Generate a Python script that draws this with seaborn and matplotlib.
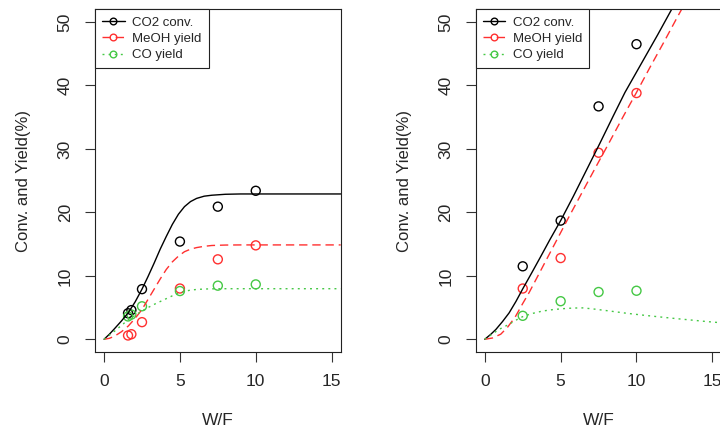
import matplotlib
matplotlib.use("Agg")
import matplotlib.pyplot as plt
from matplotlib.lines import Line2D
import pandas as pd
import seaborn as sns

# measured points, left panel
WF_LEFT = [1.58, 1.8, 2.5, 5.0, 7.5, 10.0]
CO2_LEFT = [4.1, 4.6, 7.9, 15.4, 20.9, 23.4]
MEOH_LEFT = [0.6, 0.8, 2.7, 8.0, 12.6, 14.8]
CO_LEFT = [3.6, 3.9, 5.2, 7.6, 8.45, 8.65]

# measured points, right panel
WF_RIGHT = [2.5, 5.0, 7.5, 10.0]
CO2_RIGHT = [11.5, 18.7, 36.7, 46.5]
MEOH_RIGHT = [8.0, 12.8, 29.4, 38.8]
CO_RIGHT = [3.7, 6.0, 7.45, 7.65]

# model curves, left panel
FIT_X_LEFT = [0, 0.35, 0.7, 1.15, 1.6, 2.05, 2.5, 2.9, 3.3, 3.7, 4.1, 4.5,
              4.9, 5.3, 5.7, 6.1, 6.6, 7.1, 8.0, 9.0, 10.5, 12.5, 15.6]
FIT_CO2_LEFT = [0, 0.8, 1.7, 2.9, 4.2, 5.9, 7.9, 9.9, 12.0, 14.2, 16.2, 18.1,
                19.7, 20.9, 21.7, 22.2, 22.55, 22.7, 22.85, 22.9, 22.9, 22.9, 22.9]
FIT_MEOH_LEFT = [0, 0.15, 0.5, 1.2, 2.1, 3.3, 4.7, 6.3, 7.9, 9.5, 11.0, 12.2,
                 13.1, 13.8, 14.2, 14.45, 14.65, 14.78, 14.85, 14.87, 14.87, 14.87, 14.87]
FIT_CO_LEFT = [0, 0.65, 1.3, 2.2, 3.1, 3.8, 4.45, 5.0, 5.5, 5.95, 6.4, 6.85,
               7.25, 7.55, 7.75, 7.85, 7.92, 7.95, 7.97, 7.97, 7.97, 7.97, 7.97]

# model curves, right panel
FIT_CO2_RIGHT_X = [0, 0.4, 0.73, 1.17, 1.6, 2.05, 2.49, 3.1, 3.7, 4.29, 5.0, 5.83,
                   6.71, 7.59, 8.47, 9.24, 10.45, 11.4, 12.32, 13.0]
FIT_CO2_RIGHT = [0, 0.8, 1.55, 2.8, 4.15, 5.95, 7.9, 10.5, 13.1, 15.7, 18.7, 22.5,
                 26.7, 30.9, 35.2, 38.9, 44.0, 48.0, 52.0, 54.8]
FIT_MEOH_RIGHT_X = [0, 0.5, 1.05, 1.5, 2.0, 2.49, 2.93, 3.81, 4.69, 5.57, 6.45,
                    7.33, 8.2, 9.1, 10.0, 10.9, 11.8, 12.7, 13.6]
FIT_MEOH_RIGHT = [0, 0.2, 0.8, 1.9, 3.5, 5.6, 7.4, 11.4, 15.4, 19.4, 23.3,
                  27.2, 31.0, 35.0, 38.9, 42.9, 46.8, 50.8, 54.7]
FIT_CO_RIGHT_X = [0, 0.5, 0.95, 1.3, 1.6, 2.0, 2.49, 3.1, 3.8, 4.5, 5.13, 5.8,
                  6.45, 7.15, 8.25, 9.35, 10.45, 11.55, 12.65, 13.75, 14.6, 15.6]
FIT_CO_RIGHT = [0, 0.85, 1.57, 2.0, 2.36, 2.95, 3.56, 4.05, 4.45, 4.68, 4.82, 4.92,
                4.95, 4.78, 4.45, 4.1, 3.8, 3.52, 3.25, 3.0, 2.8, 2.6]

LABELS = ["CO2 conv.", "MeOH yield", "CO yield"]
COLORS = ["#000000", "#FF3030", "#45C845"]
STYLES = ["-", (0, (6, 3.5)), (0, (1.4, 3.0))]


def draw_panel(ax, fits, wf, series):
    for (fx, fy), ys, col, ls in zip(fits, series, COLORS, STYLES):
        sns.lineplot(x=fx, y=fy, ax=ax, color=col, linestyle=ls, lw=1.0,
                     sort=False, estimator=None)
        df = pd.DataFrame({"wf": wf, "val": ys})
        sns.scatterplot(data=df, x="wf", y="val", ax=ax, color=col,
                        edgecolor=col, facecolor="none", s=42, linewidth=1.0)

    ax.set_xlim(-0.6, 15.6)
    ax.set_ylim(-2, 52)
    ax.set_xticks([0, 5, 10, 15])
    ax.set_yticks([0, 10, 20, 30, 40, 50])
    ax.set_xlabel("W/F", fontsize=12.5, labelpad=17)
    ax.set_ylabel("Conv. and Yield(%)", fontsize=12, labelpad=19)
    ax.tick_params(axis="both", direction="out", length=7, width=0.8,
                   color="#333333", labelsize=12.5, pad=9,
                   top=False, right=False)
    ax.tick_params(axis="y", labelrotation=90)
    for lab in ax.get_yticklabels():
        lab.set_va("center")
    for sp in ax.spines.values():
        sp.set_visible(True)
        sp.set_color("#222222")
        sp.set_linewidth(0.8)

    handles = [Line2D([], [], color=c, linestyle=ls, lw=1.0, marker="o",
                      markerfacecolor="none", markeredgecolor=c, markersize=4.8)
               for c, ls in zip(COLORS, STYLES)]
    leg = ax.legend(handles, LABELS, loc="upper left", fontsize=9.5,
                    frameon=True, fancybox=False, framealpha=1,
                    borderaxespad=0, borderpad=0.55, labelspacing=0.3,
                    handlelength=1.7, handletextpad=0.55, numpoints=1)
    leg.get_frame().set_edgecolor("#222222")
    leg.get_frame().set_linewidth(0.8)


sns.set_style("ticks")
plt.rcParams["font.family"] = ["Liberation Sans", "DejaVu Sans"]

fig = plt.figure(figsize=(7.2, 4.36), dpi=100)
ax1 = fig.add_axes([0.1319, 0.1927, 0.3413, 0.786])
ax2 = fig.add_axes([0.6607, 0.1927, 0.3413, 0.786])

draw_panel(ax1,
           [(FIT_X_LEFT, FIT_CO2_LEFT), (FIT_X_LEFT, FIT_MEOH_LEFT), (FIT_X_LEFT, FIT_CO_LEFT)],
           WF_LEFT, [CO2_LEFT, MEOH_LEFT, CO_LEFT])
draw_panel(ax2,
           [(FIT_CO2_RIGHT_X, FIT_CO2_RIGHT), (FIT_MEOH_RIGHT_X, FIT_MEOH_RIGHT),
            (FIT_CO_RIGHT_X, FIT_CO_RIGHT)],
           WF_RIGHT, [CO2_RIGHT, MEOH_RIGHT, CO_RIGHT])

fig.savefig("out.png", dpi=100)
